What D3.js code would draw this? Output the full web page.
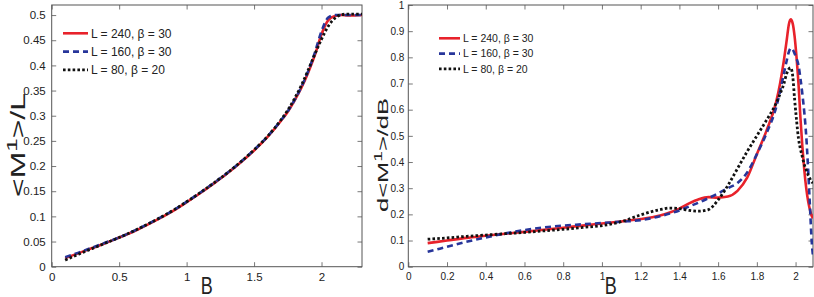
<!DOCTYPE html>
<html><head><meta charset="utf-8">
<script src="https://cdn.jsdelivr.net/npm/d3@7"></script>
<style>
html,body{margin:0;padding:0;background:#fff;}
svg text{font-family:"Liberation Sans",Arial,Helvetica,sans-serif;fill:#222;}
</style></head>
<body><svg id="c" width="814" height="297"></svg>
<script>
// ---- data ----
const seriesNames = ["L = 240, \u03b2 = 30", "L = 160, \u03b2 = 30", "L = 80, \u03b2 = 20"];

const leftB = [0.1,0.2,0.3,0.4,0.5,0.6,0.7,0.8,0.9,1.0,1.1,1.2,1.3,1.4,1.5,1.6,1.7,1.75,1.8,1.85,1.9,1.95,2.0,2.05,2.1,2.15,2.2,2.3];
const leftRed   = [0.017,0.027,0.037,0.047,0.058,0.069,0.082,0.096,0.111,0.128,0.146,0.165,0.185,0.207,0.231,0.258,0.29,0.308,0.33,0.355,0.385,0.42,0.462,0.49,0.498,0.5,0.499,0.5];
const leftBlue  = [0.019,0.028,0.038,0.048,0.058,0.07,0.083,0.097,0.112,0.129,0.147,0.166,0.186,0.208,0.232,0.259,0.291,0.309,0.331,0.357,0.388,0.425,0.468,0.495,0.5,0.5,0.5,0.5];
const leftBlack = [0.013,0.025,0.036,0.047,0.058,0.07,0.083,0.097,0.112,0.129,0.147,0.166,0.186,0.208,0.232,0.259,0.292,0.311,0.334,0.36,0.39,0.422,0.452,0.478,0.494,0.501,0.502,0.502];

const rightB = [0.1,0.2,0.3,0.4,0.5,0.6,0.7,0.8,0.9,1.0,1.1,1.2,1.3,1.35,1.4,1.45,1.5,1.55,1.6,1.65,1.7,1.75,1.8,1.85,1.9,1.92,1.94,1.955,1.965,1.975,1.985,1.995,2.005,2.015,2.025,2.035,2.045,2.055,2.065,2.075,2.083,2.09];
const rightRed   = [0.09,0.1,0.11,0.118,0.126,0.133,0.141,0.149,0.157,0.165,0.173,0.182,0.196,0.207,0.222,0.242,0.258,0.266,0.264,0.268,0.29,0.34,0.43,0.52,0.63,0.7,0.79,0.87,0.925,0.945,0.93,0.88,0.8,0.7,0.57,0.46,0.37,0.3,0.25,0.215,0.195,0.185];
const rightBlue  = [0.057,0.076,0.095,0.112,0.127,0.14,0.15,0.157,0.162,0.167,0.172,0.178,0.193,0.203,0.215,0.23,0.245,0.262,0.28,0.3,0.32,0.36,0.43,0.51,0.61,0.67,0.74,0.79,0.82,0.835,0.83,0.815,0.795,0.77,0.72,0.66,0.59,0.5,0.37,0.22,0.1,0.04];
const rightBlack = [0.105,0.11,0.116,0.121,0.126,0.131,0.137,0.143,0.15,0.157,0.172,0.198,0.218,0.224,0.222,0.215,0.212,0.218,0.255,0.31,0.375,0.44,0.5,0.56,0.625,0.66,0.7,0.74,0.755,0.76,0.73,0.64,0.56,0.49,0.45,0.42,0.39,0.37,0.35,0.335,0.325,0.32];

const leftXTicks = [0,0.5,1,1.5,2];
const leftYTicks = [0,0.05,0.1,0.15,0.2,0.25,0.3,0.35,0.4,0.45,0.5];
const rightXTicks = [0,0.2,0.4,0.6,0.8,1,1.2,1.4,1.6,1.8,2];
const rightYTicks = [0,0.1,0.2,0.3,0.4,0.5,0.6,0.7,0.8,0.9,1];

// ---- styles ----
const colors = ["#e8222b", "#27359a", "#111111"];
const dashes = [null, "6,4", "2.6,2.2"];
const widths = [2.6, 2.6, 2.8];

const svg = d3.select("#c");

function drawPanel(opt){
  const g = svg.append("g");
  const x = d3.scaleLinear().domain(opt.xDomain).range([opt.x0, opt.x1]);
  const y = d3.scaleLinear().domain(opt.yDomain).range([opt.y1, opt.y0]);
  const clipId = opt.id + "clip";
  svg.append("clipPath").attr("id", clipId).append("rect")
    .attr("x", opt.x0).attr("y", opt.y0).attr("width", opt.x1 - opt.x0).attr("height", opt.y1 - opt.y0);

  const fmt = d => String(+d.toFixed(2));
  const axStyle = sel => {
    sel.select(".domain").remove();
    sel.selectAll(".tick line").attr("stroke", "#555").attr("stroke-width", 0.8);
    sel.selectAll("text").attr("font-size", opt.tickFont).attr("fill", "#222");
  };
  g.append("g").attr("transform", `translate(0,${opt.y1})`)
    .call(d3.axisBottom(x).tickValues(opt.xTicks).tickSize(-4.5).tickPadding(6).tickFormat(fmt)).call(axStyle);
  g.append("g").attr("transform", `translate(${opt.x0},0)`)
    .call(d3.axisLeft(y).tickValues(opt.yTicks).tickSize(-4.5).tickPadding(opt.yPad).tickFormat(fmt)).call(axStyle);
  g.append("g").attr("transform", `translate(0,${opt.y0})`)
    .call(d3.axisTop(x).tickValues(opt.xTicks).tickSize(-4.5).tickFormat("")).call(axStyle);
  g.append("g").attr("transform", `translate(${opt.x1},0)`)
    .call(d3.axisRight(y).tickValues(opt.yTicks).tickSize(-4.5).tickFormat("")).call(axStyle);

  g.append("rect").attr("x", opt.x0).attr("y", opt.y0)
    .attr("width", opt.x1 - opt.x0).attr("height", opt.y1 - opt.y0)
    .attr("fill", "none").attr("stroke", "#555").attr("stroke-width", 1);

  const line = d3.line().x(d => x(d[0])).y(d => y(d[1])).curve(d3.curveMonotoneX);
  const lg = g.append("g").attr("clip-path", `url(#${clipId})`);
  opt.series.forEach((s, i) => {
    lg.append("path").datum(opt.xs.map((b, k) => [b, s[k]]))
      .attr("d", line).attr("fill", "none")
      .attr("stroke", colors[i]).attr("stroke-width", widths[i])
      .attr("stroke-dasharray", dashes[i]).attr("stroke-linejoin", "round");
  });

  // legend
  seriesNames.forEach((name, i) => {
    const yy = opt.legY + i * opt.legDy;
    g.append("line").attr("x1", opt.legX0).attr("x2", opt.legX1).attr("y1", yy).attr("y2", yy)
      .attr("stroke", colors[i]).attr("stroke-width", widths[i]).attr("stroke-dasharray", dashes[i]);
    g.append("text").attr("x", opt.legX1 + 3).attr("y", yy).attr("dy", "0.35em")
      .attr("font-size", opt.legFont).text(name);
  });

  // x label (glyphs stretched vertically like the reference)
  g.append("text").attr("transform", `translate(${(opt.x0 + opt.x1) / 2},${opt.xLabY}) scale(1,1.3)`)
    .attr("text-anchor", "middle").attr("font-size", 18).text("B");
  // y label
  const yl = g.append("text").attr("transform", `translate(${opt.yLabX},${opt.yLabCy}) rotate(-90)`)
    .attr("text-anchor", "middle").attr("font-size", opt.yLabFont)
    .attr("textLength", opt.yLabLen).attr("lengthAdjust", "spacingAndGlyphs");
  opt.yLabParts.forEach(p => {
    const t = yl.append("tspan").text(p.t);
    if (p.sup) t.attr("baseline-shift", "super").attr("font-size", opt.yLabFont * 0.75);
  });
}

drawPanel({
  id: "L", x0: 51.7, x1: 362, y0: 5, y1: 266.7,
  xDomain: [0, 2.3], yDomain: [0, 0.52],
  xTicks: leftXTicks, yTicks: leftYTicks, tickFont: 11.5, yPad: 6,
  xs: leftB, series: [leftRed, leftBlue, leftBlack],
  legX0: 63, legX1: 88, legY: 33.3, legDy: 18.3, legFont: 12,
  xLabY: 294, yLabX: 25, yLabCy: 145, yLabFont: 20, yLabLen: 104,
  yLabParts: [{t: "<M"}, {t: "1", sup: true}, {t: ">/L"}]
});

drawPanel({
  id: "R", x0: 408.3, x1: 813, y0: 5, y1: 266.7,
  xDomain: [0, 2.09], yDomain: [0, 1],
  xTicks: rightXTicks, yTicks: rightYTicks, tickFont: 10, yPad: 4,
  xs: rightB, series: [rightRed, rightBlue, rightBlack],
  legX0: 439, legX1: 460, legY: 38.3, legDy: 15.3, legFont: 10.5,
  xLabY: 294, yLabX: 388, yLabCy: 155, yLabFont: 15, yLabLen: 114,
  yLabParts: [{t: "d<M"}, {t: "1", sup: true}, {t: ">/dB"}]
});
</script></body></html>
